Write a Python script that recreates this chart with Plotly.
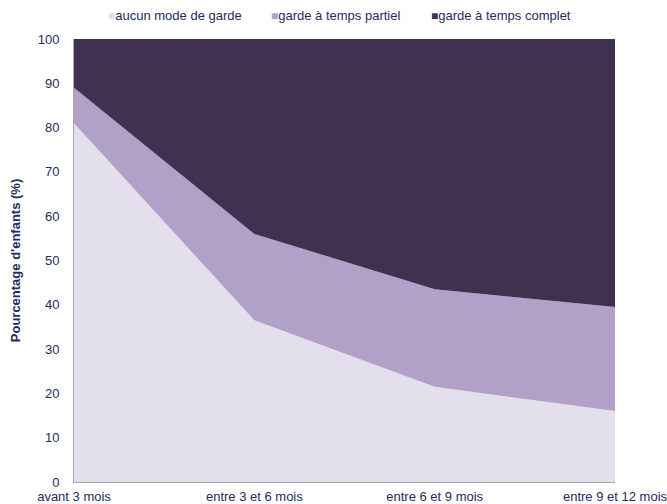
import plotly.graph_objects as go

categories = ["avant 3 mois", "entre 3 et 6 mois", "entre 6 et 9 mois", "entre 9 et 12 mois"]
aucun = [81, 36.5, 21.5, 16]
partiel = [8, 19.5, 22, 23.5]
complet = [11, 44, 56.5, 60.5]
series_names = ["aucun mode de garde", "garde à temps partiel", "garde à temps complet"]
colors = ["#E4DFEC", "#B1A0C7", "#403151"]
legend_x = [0.059, 0.360, 0.656]  # legend item positions (paper fraction)

x = list(range(len(categories)))
fig = go.Figure()
for name, vals, col in zip(series_names, [aucun, partiel, complet], colors):
    fig.add_trace(go.Scatter(
        x=x, y=vals, name=name, mode="lines", stackgroup="one",
        line=dict(width=0, color=col), fillcolor=col, showlegend=False,
    ))

txt = "#252B5C"
# legend drawn as text items with square swatches
for name, col, lx in zip(series_names, colors, legend_x):
    fig.add_annotation(
        xref="paper", yref="paper", x=lx, y=1.054, xanchor="left", yanchor="middle",
        showarrow=False,
        text=f"<span style='color:{col};font-size:12px'>■</span>{name}",
        font=dict(size=13, color=txt),
    )

fig.update_layout(
    width=667, height=504,
    margin=dict(l=74, r=52, t=39, b=22, autoexpand=False),
    paper_bgcolor="white", plot_bgcolor="white",
    font=dict(family="Liberation Sans, Arial, sans-serif", size=13, color=txt),
    showlegend=False,
    xaxis=dict(range=[0, 3], tickmode="array", tickvals=x, ticktext=categories,
               showgrid=False, zeroline=False, showline=True, linecolor="#A6A6A6",
               linewidth=1, ticks="", tickfont=dict(size=13, color=txt), ticklabelstandoff=2,
               ticklabeloverflow="allow"),
    yaxis=dict(range=[0, 100], dtick=10, showgrid=False, zeroline=False,
               showline=True, linecolor="#A6A6A6", linewidth=1, ticks="",
               tickfont=dict(size=13, color=txt), ticklabelstandoff=11,
               title=dict(text="<b>Pourcentage d'enfants (%)</b>", font=dict(size=13, color=txt), standoff=14)),
)
fig.write_html("out.html", config={"displayModeBar": False},
               post_script="document.body.style.margin='0';document.body.style.overflow='hidden';")
